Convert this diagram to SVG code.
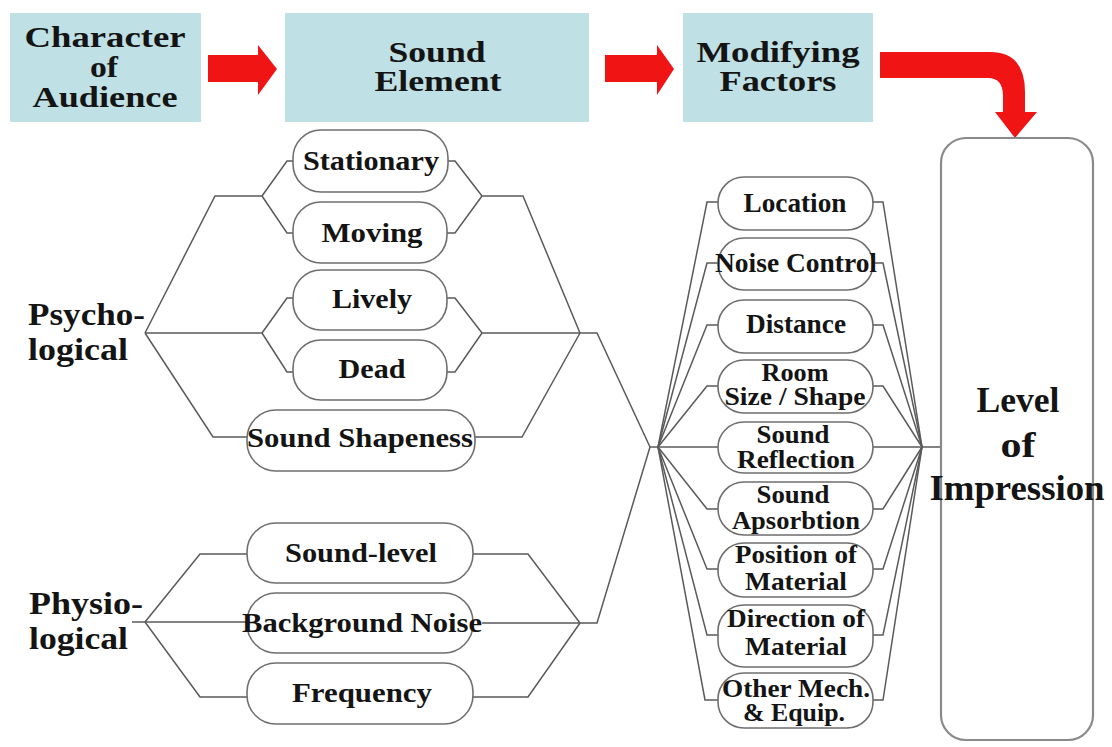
<svg xmlns="http://www.w3.org/2000/svg" width="1112" height="747" viewBox="0 0 1112 747" font-family="Liberation Serif, Times New Roman, serif">
  <defs>
    <style>
      .hdr { fill: #bfe0e4; }
      .flow { fill: #f01414; }
      .pill { fill: #ffffff; stroke: #6e6e6e; stroke-width: 1.6; }
      .big { fill: #ffffff; stroke: #8a8a8a; stroke-width: 2.2; }
      .ln { fill: none; stroke: #5a5a5a; stroke-width: 1.5; stroke-linejoin: miter; }
      .t { font-family: 'Liberation Serif', 'Times New Roman', Times, serif; font-weight: 700; fill: #141414; text-anchor: middle; }
      .h { font-size: 30px; }
      .side { font-size: 32px; text-anchor: start; }
      .p { font-size: 28px; }
      .r1 { font-size: 27px; }
      .r2 { font-size: 25px; }
      .lvl { font-size: 36px; }
    </style>
  </defs>
  <rect width="1112" height="747" fill="#ffffff"/>

  <!-- header flow: boxes and red arrows -->
  <g id="flow-arrows">
    <polygon class="flow" points="208,55 258,55 258,45 277,69 258,95 258,82 208,82"/>
    <polygon class="flow" points="605,55 657,55 657,45 674,69 657,95 657,82 605,82"/>
    <path class="flow" d="M880,52 L990,52 Q1025,52 1025,92 L1025,112 L1037,112 L1015,138 L995,112 L1003,112 L1003,96 Q1003,78 988,78 L880,78 Z"/>
  </g>

  <g id="character-of-audience">
    <rect class="hdr" x="10" y="13" width="191" height="109"/>
    <text class="t h" x="105" y="47" textLength="161" lengthAdjust="spacingAndGlyphs">Character</text>
    <text class="t h" x="104" y="77" textLength="28" lengthAdjust="spacingAndGlyphs">of</text>
    <text class="t h" x="105" y="107" textLength="145" lengthAdjust="spacingAndGlyphs">Audience</text>
  </g>
  <g id="sound-element">
    <rect class="hdr" x="285" y="13" width="304" height="109"/>
    <text class="t h" x="437" y="62" textLength="97" lengthAdjust="spacingAndGlyphs">Sound</text>
    <text class="t h" x="438" y="91" textLength="127" lengthAdjust="spacingAndGlyphs">Element</text>
  </g>
  <g id="modifying-factors">
    <rect class="hdr" x="683" y="13" width="190" height="109"/>
    <text class="t h" x="778" y="62" textLength="163" lengthAdjust="spacingAndGlyphs">Modifying</text>
    <text class="t h" x="778" y="91" textLength="117" lengthAdjust="spacingAndGlyphs">Factors</text>
  </g>

  <!-- tree connectors -->
  <g id="connectors">
    <!-- psychological branch -->
    <polyline class="ln" points="145,333 215,196 262,196"/>
    <polyline class="ln" points="262,196 287,161 293,161"/>
    <polyline class="ln" points="262,196 287,233 293,233"/>
    <polyline class="ln" points="448,161 455,161 482,196"/>
    <polyline class="ln" points="447,233 455,233 482,196"/>
    <polyline class="ln" points="482,196 523,196 580,333"/>
    <polyline class="ln" points="145,333 262,333"/>
    <polyline class="ln" points="262,333 287,298 293,298"/>
    <polyline class="ln" points="262,333 287,372 293,372"/>
    <polyline class="ln" points="447,298 455,298 482,333"/>
    <polyline class="ln" points="447,372 455,372 482,333"/>
    <polyline class="ln" points="482,333 597,333 650,447"/>
    <polyline class="ln" points="145,333 213,437 247,437"/>
    <polyline class="ln" points="475,437 522,437 580,333"/>
    <!-- physiological branch -->
    <polyline class="ln" points="145,622 200,554 247,554"/>
    <polyline class="ln" points="132,622 247,622"/>
    <polyline class="ln" points="145,622 200,697 247,697"/>
    <polyline class="ln" points="473,554 528,554 580,623"/>
    <polyline class="ln" points="482,623 597,623 650,447"/>
    <polyline class="ln" points="473,697 528,697 580,623"/>
    <!-- fan into modifying factors -->
    <polyline class="ln" points="650,447 720,447"/>
    <polyline class="ln" points="658,447 707,202 718,202"/>
    <polyline class="ln" points="658,447 707,263 718,263"/>
    <polyline class="ln" points="658,447 707,325 718,325"/>
    <polyline class="ln" points="658,447 707,386 718,386"/>
    <polyline class="ln" points="658,447 707,509 718,509"/>
    <polyline class="ln" points="658,447 707,569 718,569"/>
    <polyline class="ln" points="658,447 707,635 718,635"/>
    <polyline class="ln" points="658,447 705,700 718,700"/>
    <!-- fan into level of impression -->
    <polyline class="ln" points="873,202 883,202 922,447"/>
    <polyline class="ln" points="873,263 883,263 922,447"/>
    <polyline class="ln" points="873,325 883,325 922,447"/>
    <polyline class="ln" points="873,386 883,386 922,447"/>
    <polyline class="ln" points="873,447 942,447"/>
    <polyline class="ln" points="873,509 883,509 922,447"/>
    <polyline class="ln" points="873,569 883,569 922,447"/>
    <polyline class="ln" points="873,635 883,635 922,447"/>
    <polyline class="ln" points="873,700 883,700 922,447"/>
  </g>

  <!-- side labels -->
  <g id="psychological">
    <text class="t side" x="28" y="325" textLength="117" lengthAdjust="spacingAndGlyphs">Psycho-</text>
    <text class="t side" x="28" y="360" textLength="100" lengthAdjust="spacingAndGlyphs">logical</text>
  </g>
  <g id="physiological">
    <text class="t side" x="29" y="614" textLength="114" lengthAdjust="spacingAndGlyphs">Physio-</text>
    <text class="t side" x="29" y="649" textLength="99" lengthAdjust="spacingAndGlyphs">logical</text>
  </g>

  <!-- sound elements -->
  <g id="stationary">
    <rect class="pill" x="293" y="130" width="155" height="62" rx="28"/>
    <text class="t p" x="371" y="170" textLength="136" lengthAdjust="spacingAndGlyphs">Stationary</text>
  </g>
  <g id="moving">
    <rect class="pill" x="293" y="202" width="154" height="61" rx="28"/>
    <text class="t p" x="372" y="242" textLength="101" lengthAdjust="spacingAndGlyphs">Moving</text>
  </g>
  <g id="lively">
    <rect class="pill" x="293" y="270" width="154" height="60" rx="28"/>
    <text class="t p" x="372" y="308" textLength="80" lengthAdjust="spacingAndGlyphs">Lively</text>
  </g>
  <g id="dead">
    <rect class="pill" x="293" y="340" width="154" height="60" rx="28"/>
    <text class="t p" x="372" y="378" textLength="67" lengthAdjust="spacingAndGlyphs">Dead</text>
  </g>
  <g id="sound-shapeness">
    <rect class="pill" x="247" y="410" width="228" height="61" rx="29"/>
    <text class="t p" x="360" y="447" textLength="226" lengthAdjust="spacingAndGlyphs">Sound Shapeness</text>
  </g>
  <g id="sound-level">
    <rect class="pill" x="247" y="523" width="226" height="60" rx="29"/>
    <text class="t p" x="361" y="562" textLength="152" lengthAdjust="spacingAndGlyphs">Sound-level</text>
  </g>
  <g id="background-noise">
    <rect class="pill" x="247" y="593" width="226" height="60" rx="29"/>
    <text class="t p" x="362" y="632" textLength="240" lengthAdjust="spacingAndGlyphs">Background Noise</text>
  </g>
  <g id="frequency">
    <rect class="pill" x="247" y="663" width="226" height="61" rx="29"/>
    <text class="t p" x="362" y="702" textLength="140" lengthAdjust="spacingAndGlyphs">Frequency</text>
  </g>

  <!-- modifying factors -->
  <g id="location">
    <rect class="pill" x="718" y="177" width="155" height="53" rx="26"/>
    <text class="t r1" x="795" y="212" textLength="103" lengthAdjust="spacingAndGlyphs">Location</text>
  </g>
  <g id="noise-control">
    <rect class="pill" x="718" y="238" width="155" height="52" rx="26"/>
    <text class="t r1" x="796" y="272" textLength="162" lengthAdjust="spacingAndGlyphs">Noise Control</text>
  </g>
  <g id="distance">
    <rect class="pill" x="718" y="300" width="155" height="53" rx="26"/>
    <text class="t r1" x="796" y="333" textLength="100" lengthAdjust="spacingAndGlyphs">Distance</text>
  </g>
  <g id="room-size-shape">
    <rect class="pill" x="718" y="360" width="155" height="53" rx="26"/>
    <text class="t r2" x="795" y="381" textLength="67" lengthAdjust="spacingAndGlyphs">Room</text>
    <text class="t r2" x="795" y="405" textLength="141" lengthAdjust="spacingAndGlyphs">Size / Shape</text>
  </g>
  <g id="sound-reflection">
    <rect class="pill" x="718" y="422" width="155" height="51" rx="26"/>
    <text class="t r2" x="793" y="443" textLength="73" lengthAdjust="spacingAndGlyphs">Sound</text>
    <text class="t r2" x="796" y="468" textLength="118" lengthAdjust="spacingAndGlyphs">Reflection</text>
  </g>
  <g id="sound-absorbtion">
    <rect class="pill" x="718" y="482" width="155" height="53" rx="26"/>
    <text class="t r2" x="793" y="503" textLength="73" lengthAdjust="spacingAndGlyphs">Sound</text>
    <text class="t r2" x="796" y="529" textLength="128" lengthAdjust="spacingAndGlyphs">Apsorbtion</text>
  </g>
  <g id="position-of-material">
    <rect class="pill" x="718" y="543" width="155" height="54" rx="26"/>
    <text class="t r2" x="796" y="563" textLength="122" lengthAdjust="spacingAndGlyphs">Position of</text>
    <text class="t r2" x="796" y="590" textLength="102" lengthAdjust="spacingAndGlyphs">Material</text>
  </g>
  <g id="direction-of-material">
    <rect class="pill" x="718" y="605" width="155" height="62" rx="26"/>
    <text class="t r2" x="796" y="627" textLength="138" lengthAdjust="spacingAndGlyphs">Direction of</text>
    <text class="t r2" x="796" y="655" textLength="102" lengthAdjust="spacingAndGlyphs">Material</text>
  </g>
  <g id="other-mech-equip">
    <rect class="pill" x="718" y="673" width="155" height="55" rx="26"/>
    <text class="t r2" x="796" y="697" textLength="148" lengthAdjust="spacingAndGlyphs">Other Mech.</text>
    <text class="t r2" x="794" y="721" textLength="102" lengthAdjust="spacingAndGlyphs">&amp; Equip.</text>
  </g>

  <!-- outcome -->
  <g id="level-of-impression">
    <rect class="big" x="941" y="138" width="152" height="602" rx="25"/>
    <text class="t lvl" x="1018" y="412" textLength="83" lengthAdjust="spacingAndGlyphs">Level</text>
    <text class="t lvl" x="1018" y="457" textLength="35" lengthAdjust="spacingAndGlyphs">of</text>
    <text class="t lvl" x="1017" y="500" textLength="175" lengthAdjust="spacingAndGlyphs">Impression</text>
  </g>
</svg>
